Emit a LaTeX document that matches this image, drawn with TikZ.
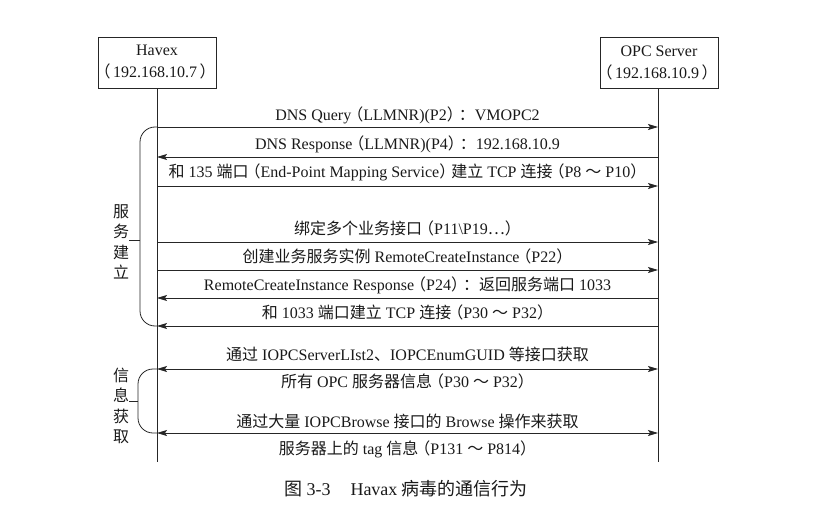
\documentclass[tikz,border=0pt]{standalone}
\usepackage{fontspec}
\setmainfont{Liberation Serif}
\newfontfamily\cjk{Noto Sans CJK SC}
\usetikzlibrary{arrows.meta}
\newcommand\zh[1]{{\cjk #1}}
\newcommand\lp{{\cjk\hspace{-0.25em}（}}
\newcommand\rp{{\cjk ）\hspace{-0.25em}}}
\begin{document}
\begin{tikzpicture}[x=1pt,y=-1pt,
  font=\fontsize{16}{22}\selectfont,
  every node/.style={text=black!90},
  line/.style={draw=black!85, line width=0.8pt},
  actor/.style={line, minimum width=118pt, minimum height=51pt, align=center, inner sep=0pt},
  msg/.style={line, -{Stealth[length=10pt,width=6pt,inset=2pt]}},
  dmsg/.style={line, {Stealth[length=10pt,width=6pt,inset=2pt]}-{Stealth[length=10pt,width=6pt,inset=2pt]}},
  lbl/.style={anchor=base, inner sep=0pt},
  vlbl/.style={align=center, inner sep=0pt, font=\fontsize{16}{20.3}\selectfont\cjk},
  brace/.style={line, rounded corners=15pt}
]
\useasboundingbox (0,0) rectangle (816,516);

\node[actor] (havex) at (157,62.5) {Havex\\\lp\hspace{2.5pt}192.168.10.7\hspace{2.5pt}\rp};
\node[actor] (opc) at (659,62.5) {OPC Server\\\lp\hspace{2.5pt}192.168.10.9\hspace{2.5pt}\rp};
\coordinate (hend) at (157,462);
\coordinate (oend) at (658,462);
\draw[line] (havex.south) -- (hend);
\draw[line] (opc.south -| oend) -- (oend);

% message anchor points
\foreach \n/\y in {1/127,2/157,3/186,4/242,5/270,6/298,7/326,8/369,9/433}{
  \coordinate (h\n) at (157,\y);
  \coordinate (o\n) at (658,\y);
}

\draw[msg] (h1) -- (o1);
\node[lbl] (l1) at (407.5,120.5) {DNS Query\lp LLMNR)(P2\rp\zh{：}VMOPC2};
\draw[msg] (o2) -- (h2);
\node[lbl] (l2) at (407.5,149.5) {DNS Response\lp LLMNR)(P4\rp\zh{：}192.168.10.9};
\draw[msg] (h3) -- (o3);
\node[lbl] (l3) at (407.5,177.5) {\zh{和} 135 \zh{端口}\lp End-Point Mapping Service\rp\zh{建立} TCP \zh{连接}\lp P8 \zh{～} P10\rp};
\draw[msg] (h4) -- (o4);
\node[lbl] (l4) at (407.5,234.5) {\zh{绑定多个业务接口}\lp P11\textbackslash P19\zh{⋯}\rp};
\draw[msg] (h5) -- (o5);
\node[lbl] (l5) at (407.5,262.5) {\zh{创建业务服务实例} RemoteCreateInstance\lp P22\rp};
\draw[msg] (o6) -- (h6);
\node[lbl] (l6) at (407.5,290.5) {RemoteCreateInstance Response\lp P24\rp\zh{：返回服务端口} 1033};
\draw[msg] (o7) -- (h7);
\node[lbl] (l7) at (407.5,318.5) {\zh{和} 1033 \zh{端口建立} TCP \zh{连接}\lp P30 \zh{～} P32\rp};

\draw[dmsg] (h8) -- (o8);
\node[lbl] (l8a) at (407.5,360.5) {\zh{通过} IOPCServerLIst2\zh{、}IOPCEnumGUID \zh{等接口获取}};
\node[lbl] (l8b) at (407.5,387.5) {\zh{所有} OPC \zh{服务器信息}\lp P30 \zh{～} P32\rp};
\draw[dmsg] (h9) -- (o9);
\node[lbl] (l9a) at (407.5,427.5) {\zh{通过大量} IOPCBrowse \zh{接口的} Browse \zh{操作来获取}};
\node[lbl] (l9b) at (407.5,454.5) {\zh{服务器上的} tag \zh{信息}\lp P131 \zh{～} P814\rp};

% braces
\coordinate (b1) at (140,240);
\coordinate (t1) at (129,240);
\draw[brace] (h1) -| (b1) |- (h7);
\draw[line] (b1) -- (t1);
\node[vlbl] (g1) at (121,242) {服\\务\\建\\立};

\coordinate (b2) at (138,401);
\coordinate (t2) at (129,401);
\draw[brace] (h8) -| (b2) |- (h9);
\draw[line] (b2) -- (t2);
\node[vlbl] (g2) at (121,406) {信\\息\\获\\取};

\node[lbl, font=\fontsize{18}{22}\selectfont] (cap) at (406,495) {\zh{图} 3-3\hspace{20pt}Havax \zh{病毒的通信行为}};
\end{tikzpicture}
\end{document}
